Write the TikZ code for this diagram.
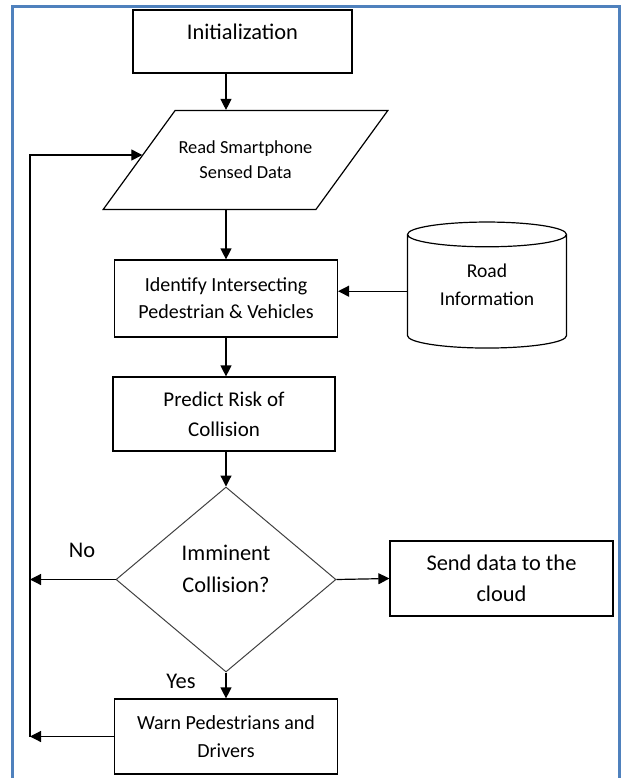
\documentclass[tikz,border=0pt]{standalone}
\usepackage{fontspec}
\setmainfont{Carlito}
\usepackage{xcolor}
\usetikzlibrary{shapes, arrows.meta, positioning}
\definecolor{frameblue}{RGB}{79,129,189}

\begin{document}
\begin{tikzpicture}[x=0.5pt, y=-0.5pt, line width=0.6pt,
        >={Triangle[length=5.5pt,width=5.5pt]},
        block/.style={rectangle, draw, align=center, inner sep=2pt},
        io/.style={trapezium, draw, align=center, trapezium left angle=54, trapezium right angle=126},
        db/.style={cylinder, draw, align=center, shape border rotate=90, aspect=0.23},
        decision/.style={diamond, draw=black!75, line width=0.5pt, align=center}]
        \useasboundingbox (0,0) rectangle (625,778);
        \begin{scope}
        \clip (0,0) rectangle (625,778);
        \draw[frameblue, line width=1.5pt] (12,800) -- (12,6) -- (619,6) -- (619,800);
        \end{scope}

        \node[block, minimum width=109.5pt, minimum height=31.5pt, text depth=9.5pt, font=\fontsize{11.2}{15}\selectfont] (init) at (242.5,41.5) {Initialization};
        \node[io, inner xsep=1.75pt, inner ysep=15.25pt, font=\fontsize{9.2}{12.5}\selectfont] (read) at (245.5,160) {Read Smartphone\\Sensed Data};
        \node[block, minimum width=111.5pt, minimum height=38.5pt, font=\fontsize{10}{13.5}\selectfont] (ident) at (226,298.5) {Identify Intersecting\\Pedestrian \& Vehicles};
        \node[db, minimum width=79.5pt, minimum height=63pt, text depth=9pt, font=\fontsize{9.8}{14}\selectfont] (road) at (487,294) {Road\\Information};
        \node[block, minimum width=111pt, minimum height=37pt, font=\fontsize{10.5}{15}\selectfont] (predict) at (224,414) {Predict Risk of\\Collision};
        \node[decision, minimum width=110pt, minimum height=92.5pt, text depth=11pt, font=\fontsize{11.2}{16}\selectfont] (dec) at (226,579.5) {Imminent\\Collision?};
        \node[block, minimum width=111.5pt, minimum height=37.5pt, font=\fontsize{11.2}{15.5}\selectfont] (send) at (501.5,578.5) {Send data to the\\cloud};
        \node[block, minimum width=111.5pt, minimum height=37.5pt, font=\fontsize{10}{14}\selectfont] (warn) at (226,736.5) {Warn Pedestrians and\\Drivers};
        \coordinate (loop) at (30,155);

        \node[font=\fontsize{11.2}{13}\selectfont] (no) at (82,550) {No};
        \node[font=\fontsize{11.2}{13}\selectfont] (yes) at (181,681) {Yes};

        \draw[->] (ident.north |- init.south) -- (ident.north |- read.north);
        \draw[->] (ident.north |- read.south) -- (ident.north);
        \draw[->] (road.178) -- (road.178 -| ident.east);
        \draw[->] (ident.south) -- (ident.south |- predict.north);
        \draw[->] (dec.north |- predict.south) -- (dec.north);
        \draw[->] (dec.east) -- (send.west);
        \draw[->] (dec.south) -- (warn.north);
        \draw[->] (dec.west) -- (dec.west -| loop);
        \draw[->] (warn.west) -- (warn.west -| loop);
        \draw[->] (warn.west -| loop) -- (loop) -- (loop -| read.177);

      \end{tikzpicture}
\end{document}
